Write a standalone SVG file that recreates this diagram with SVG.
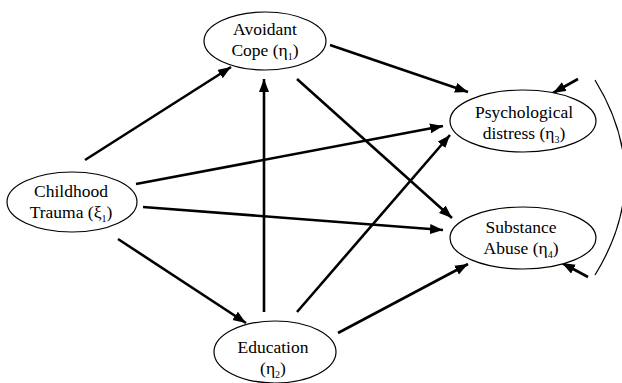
<svg xmlns="http://www.w3.org/2000/svg" width="622" height="383" viewBox="0 0 622 383">
<style>
.node ellipse{fill:#fff;stroke:#000;stroke-width:1.2}
.node text{font-family:'Liberation Serif','Times New Roman','DejaVu Serif',serif;font-size:17.5px;fill:#000;text-anchor:middle}
.sub{font-size:10px}
.conn line{stroke:#000;stroke-width:2.6;marker-end:url(#ah)}
.corr{fill:none;stroke:#000;stroke-width:1.2}
</style>
<defs>
<marker id="ah" markerUnits="userSpaceOnUse" markerWidth="14" markerHeight="12" refX="13" refY="5" orient="auto">
<path d="M0,0 L13,5 L0,10 Z" fill="#000"/>
</marker>
</defs>
<rect width="622" height="383" fill="#fff"/>
<g id="connectors" class="conn">
<line x1="85" y1="160" x2="231" y2="67"/>
<line x1="136" y1="184" x2="443" y2="126"/>
<line x1="143" y1="207" x2="443" y2="230"/>
<line x1="118" y1="239" x2="246" y2="323"/>
<line x1="264" y1="312" x2="264" y2="79"/>
<line x1="297" y1="312" x2="450" y2="135"/>
<line x1="338" y1="333" x2="468" y2="264"/>
<line x1="330" y1="45" x2="468" y2="92"/>
<line x1="297" y1="79" x2="452" y2="218"/>
<line x1="578" y1="79" x2="553" y2="93"/>
<line x1="588" y1="277" x2="562" y2="263"/>
<path class="corr" d="M595,80 Q655,178 595,275"/>
</g>
<g id="avoidant" class="node">
<ellipse cx="265" cy="41" rx="61" ry="29"/>
<text x="265" y="35" font-family="Liberation Serif, serif">Avoidant</text>
<text x="265" y="56" font-family="Liberation Serif, serif">Cope (η<tspan class="sub" dy="4">1</tspan><tspan dy="-4">)</tspan></text>
</g>
<g id="childhood" class="node">
<ellipse cx="72" cy="202" rx="65" ry="30"/>
<text x="71" y="197">Childhood</text>
<text x="71" y="218">Trauma (ξ<tspan class="sub" dy="4">1</tspan><tspan dy="-4">)</tspan></text>
</g>
<g id="education" class="node">
<ellipse cx="275" cy="352" rx="61" ry="31"/>
<text x="273" y="353">Education</text>
<text x="273" y="374">(η<tspan class="sub" dy="4">2</tspan><tspan dy="-4">)</tspan></text>
</g>
<g id="psych" class="node">
<ellipse cx="523" cy="121" rx="73" ry="31"/>
<text x="524" y="118">Psychological</text>
<text x="524" y="139">distress (η<tspan class="sub" dy="4">3</tspan><tspan dy="-4">)</tspan></text>
</g>
<g id="substance" class="node">
<ellipse cx="523" cy="238" rx="73" ry="31"/>
<text x="521" y="233">Substance</text>
<text x="521" y="254">Abuse (η<tspan class="sub" dy="4">4</tspan><tspan dy="-4">)</tspan></text>
</g>
</svg>
